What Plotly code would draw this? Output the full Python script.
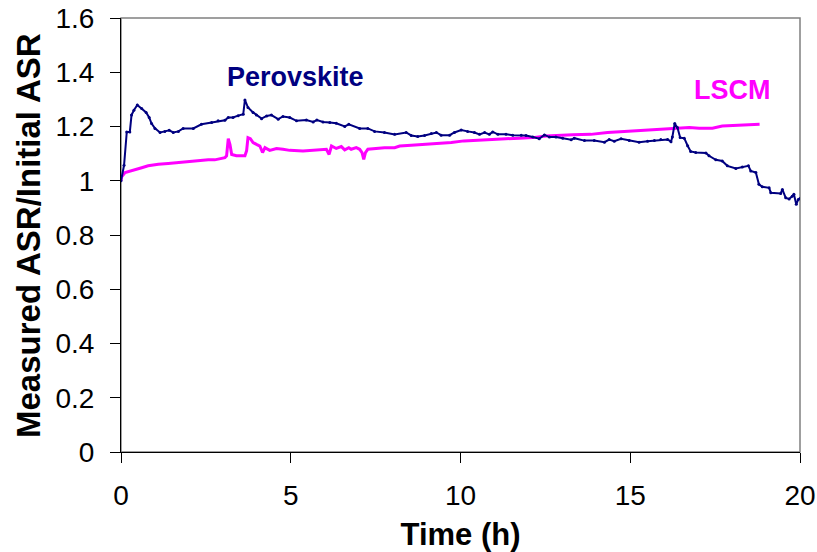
import plotly.graph_objects as go

# Perovskite anode: normalised ASR vs time
perov_time = [0, 0.09, 0.17, 0.26, 0.31, 0.38, 0.48, 0.61, 0.74, 0.83, 0.90, 1.0, 1.15, 1.29, 1.42,
              1.54, 1.69, 1.83, 2.13, 2.37, 2.67, 2.86, 3.06, 3.16, 3.30, 3.45, 3.6, 3.65, 3.74, 3.89,
              3.99, 4.14, 4.29, 4.43, 4.63, 4.77, 4.97, 5.17, 5.46, 5.66, 5.77, 5.95, 6.15, 6.34, 6.59,
              6.71, 7.03, 7.27, 7.47, 7.76, 8.06, 8.40, 8.55, 8.74, 8.94, 9.14, 9.29, 9.43, 9.68, 9.82,
              10.02, 10.21, 10.41, 10.56, 10.71, 10.85, 10.95, 11.10, 11.34, 11.54, 11.79, 11.93, 12.13,
              12.32, 12.47, 12.62, 12.81, 13.01, 13.26, 13.35, 13.65, 13.94, 14.24, 14.38, 14.53, 14.73,
              14.97, 15.26, 15.51, 15.71, 15.90, 16.10, 16.20, 16.24, 16.31, 16.39, 16.47, 16.59, 16.69,
              16.78, 16.93, 17.23, 17.32, 17.52, 17.71, 17.86, 18.11, 18.30, 18.48, 18.55, 18.70, 18.79,
              18.89, 19.09, 19.14, 19.43, 19.48, 19.58, 19.68, 19.77, 19.82, 19.89, 19.95, 20.0]
perov_ratio = [1.0, 1.057, 1.18, 1.18, 1.242, 1.26, 1.279, 1.266, 1.252, 1.233, 1.211, 1.193, 1.178,
               1.182, 1.186, 1.178, 1.182, 1.193, 1.193, 1.208, 1.215, 1.221, 1.223, 1.233, 1.233, 1.24,
               1.245, 1.298, 1.270, 1.252, 1.242, 1.229, 1.239, 1.242, 1.227, 1.237, 1.233, 1.221, 1.224,
               1.217, 1.224, 1.217, 1.215, 1.212, 1.2, 1.208, 1.193, 1.193, 1.182, 1.178, 1.171, 1.178,
               1.167, 1.163, 1.167, 1.174, 1.178, 1.168, 1.168, 1.178, 1.187, 1.182, 1.178, 1.171, 1.178,
               1.171, 1.18, 1.171, 1.171, 1.168, 1.168, 1.167, 1.161, 1.155, 1.169, 1.161, 1.161, 1.157,
               1.151, 1.157, 1.148, 1.148, 1.142, 1.152, 1.146, 1.155, 1.148, 1.142, 1.146, 1.148, 1.152,
               1.152, 1.144, 1.161, 1.211, 1.196, 1.159, 1.157, 1.129, 1.108, 1.104, 1.102, 1.092, 1.077,
               1.073, 1.055, 1.045, 1.051, 1.055, 1.036, 1.030, 0.987, 0.978, 0.974, 0.956, 0.953, 0.968,
               0.937, 0.933, 0.943, 0.950, 0.913, 0.931, 0.935]

# LSCM anode: normalised ASR vs time
lscm_time = [0, 0.02, 0.12, 0.26, 0.41, 0.61, 0.80, 1.1, 1.39, 1.69, 1.98, 2.27, 2.57, 2.76, 2.96,
             3.06, 3.11, 3.16, 3.21, 3.26, 3.40, 3.65, 3.70, 3.74, 3.81, 3.89, 3.99, 4.09, 4.17, 4.24,
             4.38, 4.58, 4.77, 4.97, 5.36, 5.76, 6.05, 6.13, 6.20, 6.34, 6.49, 6.59, 6.71, 6.78, 6.93,
             7.03, 7.10, 7.15, 7.20, 7.27, 7.47, 7.76, 8.06, 8.21, 8.55, 8.94, 9.33, 9.73, 10.10, 10.56,
             10.95, 11.34, 11.74, 12.13, 12.52, 12.91, 13.30, 13.84, 14.33, 14.82, 15.31, 15.80, 16.29,
             16.74, 17.03, 17.42, 17.71, 18.11, 18.45, 18.81]
lscm_ratio = [1.0, 1.015, 1.03, 1.036, 1.042, 1.048, 1.055, 1.061, 1.064, 1.067, 1.071, 1.075, 1.077,
              1.077, 1.083, 1.085, 1.092, 1.155, 1.133, 1.097, 1.092, 1.092, 1.111, 1.159, 1.155, 1.141,
              1.134, 1.128, 1.104, 1.122, 1.112, 1.119, 1.116, 1.112, 1.110, 1.112, 1.116, 1.097, 1.128,
              1.119, 1.126, 1.114, 1.122, 1.116, 1.122, 1.116, 1.104, 1.079, 1.104, 1.116, 1.119, 1.122,
              1.122, 1.128, 1.131, 1.134, 1.137, 1.141, 1.147, 1.149, 1.153, 1.155, 1.157, 1.159, 1.165,
              1.168, 1.170, 1.171, 1.178, 1.182, 1.186, 1.19, 1.193, 1.196, 1.194, 1.194, 1.202, 1.205,
              1.206, 1.208]

x_ticks = [0, 5, 10, 15, 20]
y_ticks = [0, 0.2, 0.4, 0.6, 0.8, 1, 1.2, 1.4, 1.6]

NAVY = "#000080"
MAGENTA = "#FF00FF"
FONT = "Liberation Sans, Arial, sans-serif"

fig = go.Figure()
fig.add_trace(go.Scatter(x=lscm_time, y=lscm_ratio, mode="lines", name="LSCM",
                         line=dict(color=MAGENTA, width=3)))
fig.add_trace(go.Scatter(x=perov_time, y=perov_ratio, mode="lines+markers", name="Perovskite",
                         line=dict(color=NAVY, width=2), marker=dict(color=NAVY, size=3)))

fig.add_annotation(x=5.13, y=1.383, text="<b>Perovskite</b>", showarrow=False,
                   font=dict(family=FONT, size=27, color=NAVY))
fig.add_annotation(x=18.0, y=1.334, text="<b>LSCM</b>", showarrow=False,
                   font=dict(family=FONT, size=27, color=MAGENTA))

# vertical y-axis title, placed in paper coordinates
fig.add_annotation(xref="paper", yref="paper", x=-0.137, y=0.5, text="<b>Measured ASR/Initial ASR</b>",
                   textangle=-90, showarrow=False, xanchor="center", yanchor="middle",
                   font=dict(family=FONT, size=33, color="black"))

# grey plot-area frame
fig.add_shape(type="rect", xref="paper", yref="paper", x0=0, y0=0, x1=1, y1=1,
              line=dict(color="#808080", width=1.5), layer="below")

fig.update_layout(
    width=817, height=552, autosize=False,
    margin=dict(l=121, r=17, t=18, b=100),
    paper_bgcolor="white", plot_bgcolor="white",
    showlegend=False,
    font=dict(family=FONT, color="black"),
    xaxis=dict(range=[0, 20], tickvals=x_ticks, ticks="outside", ticklen=10, tickcolor="black",
               showline=True, linecolor="black", linewidth=1, showgrid=False, zeroline=False,
               automargin=False, ticklabelstandoff=8, tickfont=dict(size=28),
               title=dict(text="<b>Time (h)</b>", font=dict(size=31))),
    yaxis=dict(range=[0, 1.6], tickvals=y_ticks, ticks="outside", ticklen=10, tickcolor="black",
               showline=True, linecolor="black", linewidth=1, showgrid=False, zeroline=False,
               automargin=False, ticklabelstandoff=10, tickfont=dict(size=28)),
)

fig.write_html("out.html")
